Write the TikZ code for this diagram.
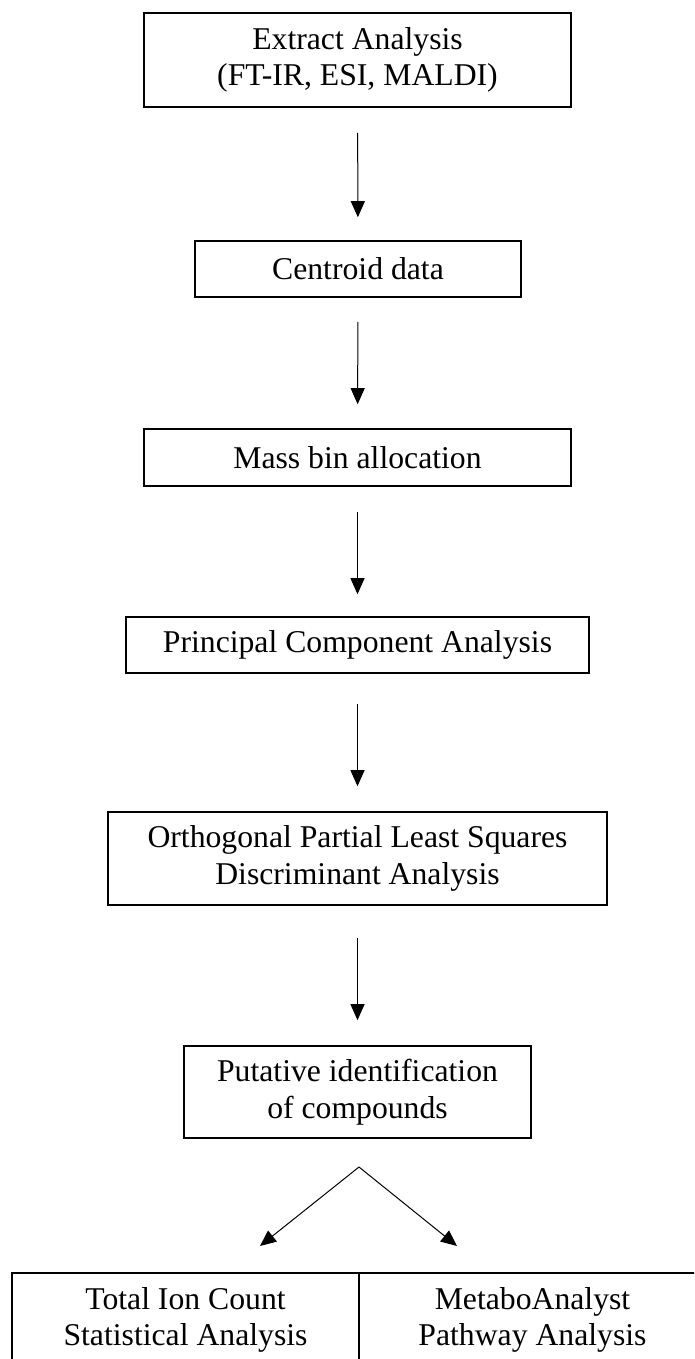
\documentclass[tikz,border=0pt]{standalone}
\usepackage{fontspec}
\setmainfont{Liberation Serif}
\usetikzlibrary{arrows.meta}
\begin{document}
\begin{tikzpicture}[x=1pt,y=-1pt,
  box/.style={draw, line width=1.6pt, inner sep=0pt, align=center,
    font=\fontsize{31.7}{36.5}\selectfont},
  flow/.style={line width=1pt, -{Triangle[width=14pt,length=16pt]}}]
\useasboundingbox (0,0) rectangle (694,1359);
\clip (0,0) rectangle (694,1359);
\node[box, minimum width=427pt, minimum height=94pt] (b1) at (357.5,60)
  {Extract Analysis\\(FT-IR, ESI, MALDI)};
\node[box, minimum width=326pt, minimum height=56pt] (b2) at (358,269)
  {Centroid data};
\node[box, minimum width=427pt, minimum height=57pt] (b3) at (357.5,457.5)
  {Mass bin allocation};
\node[box, minimum width=463pt, minimum height=56pt] (b4) at (357.5,645)
  {Principal Component Analysis};
\node[box, minimum width=499pt, minimum height=93pt] (b5) at (357.5,858.5)
  {Orthogonal Partial Least Squares\\Discriminant Analysis};
\node[box, minimum width=347pt, minimum height=92pt] (b6) at (357.5,1092)
  {Putative identification\\of compounds};
\node[box, minimum width=347pt, minimum height=94pt] (c1) at (185.5,1320)
  {Total Ion Count\\Statistical Analysis};
\node[box, minimum width=347pt, minimum height=94pt] (c2) at (532.5,1320)
  {MetaboAnalyst\\Pathway Analysis};
\draw[flow, shorten <=25pt, shorten >=23pt] (b1) -- (b2);
\draw[flow, shorten <=24pt, shorten >=24pt] (b2) -- (b3);
\draw[flow, shorten <=25pt, shorten >=22pt] (b3) -- (b4);
\draw[flow, shorten <=30pt, shorten >=25pt] (b4) -- (b5);
\draw[flow, shorten <=32pt, shorten >=25pt] (b5) -- (b6);
\coordinate (apex) at (359,1167);
\coordinate (tl) at (260,1246);
\coordinate (tr) at (457,1246);
\draw[flow] (apex) -- (tl);
\draw[flow] (apex) -- (tr);
\end{tikzpicture}
\end{document}
